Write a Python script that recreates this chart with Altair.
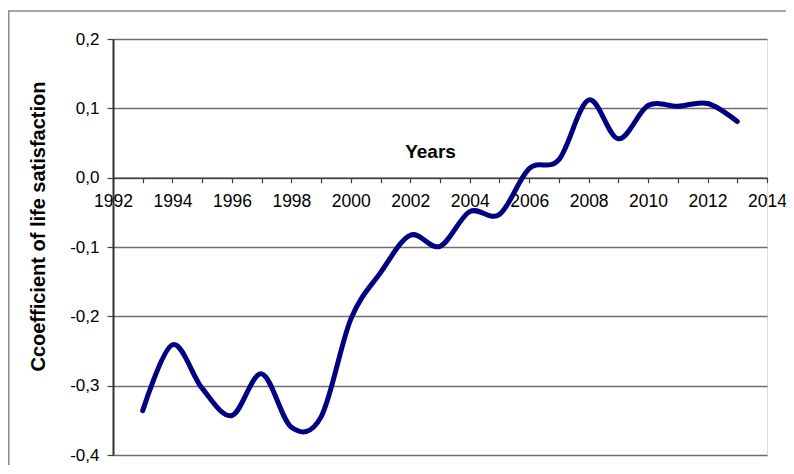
import altair as alt
import pandas as pd

years = list(range(1993, 2014))
values = [-0.336, -0.241, -0.304, -0.343, -0.283, -0.360, -0.345, -0.204,
          -0.137, -0.083, -0.099, -0.049, -0.053, 0.013, 0.026, 0.112,
          0.056, 0.104, 0.103, 0.107, 0.081]
x_ticks = list(range(1992, 2015))
y_ticks = [-0.4, -0.3, -0.2, -0.1, 0.0, 0.1, 0.2]

df = pd.DataFrame({"year": years, "value": values})

W, H = 654, 416
y_zero = H * (0.2 / 0.6)

FONT = "Liberation Sans"

line = alt.Chart(df).mark_line(
    color="#000080", strokeWidth=5, interpolate="cardinal", strokeCap="round"
).encode(
    x=alt.X("year:Q",
            scale=alt.Scale(domain=[1992, 2014], nice=False, zero=False),
            axis=alt.Axis(values=x_ticks, format="d",
                          labelExpr="datum.value % 2 === 0 ? datum.label : ''",
                          offset=y_zero - H, grid=False,
                          domainColor="#404040", domainWidth=1.5,
                          tickColor="#404040", tickSize=5, tickWidth=1.2,
                          labelFont=FONT, labelFontSize=17.5, labelColor="#000",
                          labelPadding=10, labelFlush=False, labelOverlap=False,
                          labelBound=False,
                          title="Years", titleFont=FONT, titleFontSize=19,
                          titleFontWeight="bold", titleColor="#000",
                          titleX=317, titleY=-26, titleAlign="center",
                          titleBaseline="middle")),
    y=alt.Y("value:Q",
            scale=alt.Scale(domain=[-0.4, 0.2], nice=False, zero=False),
            axis=alt.Axis(values=y_ticks, format=".1f",
                          labelExpr="replace(replace(datum.label, '.', ','), '\u2212', '-')",
                          grid=True, gridColor="#6e6e6e", gridWidth=1.5,
                          domainColor="#303030", domainWidth=2,
                          tickColor="#404040", tickSize=6, tickWidth=1.2,
                          labelFont=FONT, labelFontSize=17, labelColor="#000",
                          labelPadding=8,
                          title="Ccoefficient of life satisfaction",
                          titleFont=FONT, titleFontSize=20, titleFontWeight="bold",
                          titleColor="#000", titleX=-74.5, titleY=187,
                          titleAngle=270, titleAlign="center",
                          titleBaseline="middle")),
)

frame = alt.Chart(pd.DataFrame({"a": [0]})).mark_rect(
    fill=None, stroke="#8a8a8a", strokeWidth=1.5
).encode(
    x=alt.value(-104.25), x2=alt.value(720),
    y=alt.value(-28), y2=alt.value(520)
)

chart = alt.layer(frame, line).properties(
    width=W, height=H,
    padding={"left": 105, "top": 31, "right": 19, "bottom": 10},
    autosize=alt.AutoSizeParams(type="none"),
).configure_view(
    stroke="#7a7a7a", strokeWidth=1.5
).configure(background="white")

chart.save("out.html", embed_options={"renderer": "svg", "actions": False})
